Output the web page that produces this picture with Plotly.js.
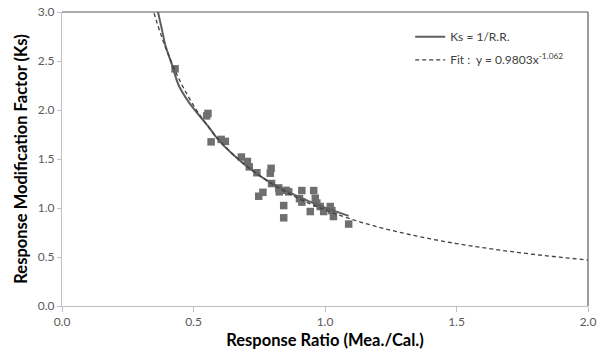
<!DOCTYPE html>
<html>
<head>
<meta charset="utf-8">
<script src="https://cdn.plot.ly/plotly-3.0.1.min.js"></script>
<style>html,body{margin:0;padding:0;background:#fff;}#chart{width:597px;height:357px;}</style>
</head>
<body>
<div id="chart"></div>
<script>
// Measured data points (Response Ratio, Ks)
const pointsX = [0.43, 0.55, 0.555, 0.567, 0.605, 0.621, 0.682, 0.705, 0.712, 0.741, 0.795, 0.792, 0.797, 0.748, 0.764,
                 0.824, 0.826, 0.852, 0.862, 0.843, 0.843, 0.912, 0.957, 0.903, 0.912, 0.963, 0.969, 0.944, 0.982,
                 0.995, 1.02, 1.026, 1.032, 1.09];
const pointsY = [2.42, 1.94, 1.965, 1.675, 1.70, 1.68, 1.52, 1.475, 1.42, 1.36, 1.405, 1.355, 1.25, 1.12, 1.16,
                 1.205, 1.165, 1.18, 1.165, 1.025, 0.90, 1.178, 1.178, 1.095, 1.06, 1.10, 1.05, 0.964, 1.015,
                 0.964, 1.015, 0.974, 0.913, 0.836];

// Ks = 1/R.R. curve
const ksX = [0.365, 0.38, 0.393, 0.419, 0.444, 0.482, 0.526, 0.557, 0.59, 0.65, 0.72, 0.79, 0.86, 0.96, 1.09];
const ksY = [3.0, 2.82, 2.66, 2.456, 2.25, 2.08, 1.93, 1.83, 1.71, 1.545, 1.39, 1.265, 1.165, 1.045, 0.92];

// Fit curve y = 0.9803x^-1.062 (values read/tabulated)
const fitX = [0.35, 0.36, 0.38, 0.40, 0.43, 0.46, 0.50, 0.55, 0.60, 0.65, 0.70, 0.80, 0.90, 1.0, 1.1, 1.2, 1.3, 1.4, 1.5, 1.6, 1.7, 1.8, 1.9, 2.0];
const fitY = [2.989, 2.901, 2.739, 2.594, 2.402, 2.236, 2.047, 1.850, 1.686, 1.549, 1.432, 1.242, 1.096, 0.980, 0.886, 0.808, 0.742, 0.686, 0.637, 0.595, 0.558, 0.525, 0.496, 0.469];

const xTicks = [0, 0.5, 1.0, 1.5, 2.0];
const xTickText = ['0.0', '0.5', '1.0', '1.5', '2.0'];
const yTicks = [0, 0.5, 1.0, 1.5, 2.0, 2.5, 3.0];
const yTickText = ['0.0', '0.5', '1.0', '1.5', '2.0', '2.5', '3.0'];

const FONT = 'Lato, "Liberation Sans", sans-serif';

const traces = [
  {
    x: pointsX, y: pointsY, type: 'scatter', mode: 'markers', showlegend: false,
    marker: {symbol: 'square', size: 7.5, color: '#6f6f6f'}, cliponaxis: true
  },
  {
    x: ksX, y: ksY, type: 'scatter', mode: 'lines', name: 'Ks = 1/R.R.', legendgroup: 'a',
    line: {color: '#5f5f5f', width: 2, shape: 'spline', smoothing: 1}
  },
  {
    x: fitX, y: fitY, type: 'scatter', mode: 'lines', name: 'Fit :  y = 0.9803x<sup>-1.062</sup>', legendgroup: 'b',
    line: {color: '#404040', width: 1.3, dash: '4px,3px', shape: 'spline'}
  }
];

const layout = {
  width: 597, height: 357,
  margin: {l: 62, r: 9, t: 12, b: 51},
  paper_bgcolor: '#ffffff', plot_bgcolor: '#ffffff',
  font: {family: FONT, color: '#595959', size: 12},
  showlegend: true,
  legend: {
    x: 0.662, y: 0.965, xanchor: 'left', yanchor: 'top',
    bgcolor: 'rgba(0,0,0,0)', borderwidth: 0,
    font: {family: FONT, size: 12, color: '#404040'},
    traceorder: 'grouped', tracegroupgap: 4, itemwidth: 30
  },
  xaxis: {
    range: [0, 2.0], tickvals: xTicks, ticktext: xTickText,
    showgrid: false, zeroline: false, showline: true, linecolor: '#bfbfbf', linewidth: 1,
    ticks: 'outside', ticklen: 5, tickcolor: '#bfbfbf',
    tickfont: {family: FONT, size: 12, color: '#595959'},
    title: {text: '<b>Response Ratio (Mea./Cal.)</b>', font: {family: FONT, size: 16.5, color: '#000000'}, standoff: 6}
  },
  yaxis: {
    range: [0, 3.0], tickvals: yTicks, ticktext: yTickText,
    showgrid: false, zeroline: false, showline: true, linecolor: '#bfbfbf', linewidth: 1,
    ticks: 'outside', ticklen: 4, tickcolor: '#bfbfbf',
    tickfont: {family: FONT, size: 12, color: '#595959'},
    title: {text: '<b>Response Modification Factor (Ks)</b>', font: {family: FONT, size: 16.5, color: '#000000'}, standoff: 6}
  },
  shapes: [
    {type: 'line', xref: 'paper', yref: 'paper', x0: 0, x1: 1, y0: 1, y1: 1, line: {color: '#595959', width: 1.2}},
    {type: 'line', xref: 'paper', yref: 'paper', x0: 1, x1: 1, y0: 0, y1: 1, line: {color: '#595959', width: 1.2}}
  ]
};

Plotly.newPlot('chart', traces, layout, {displayModeBar: false, staticPlot: true});
</script>
</body>
</html>
